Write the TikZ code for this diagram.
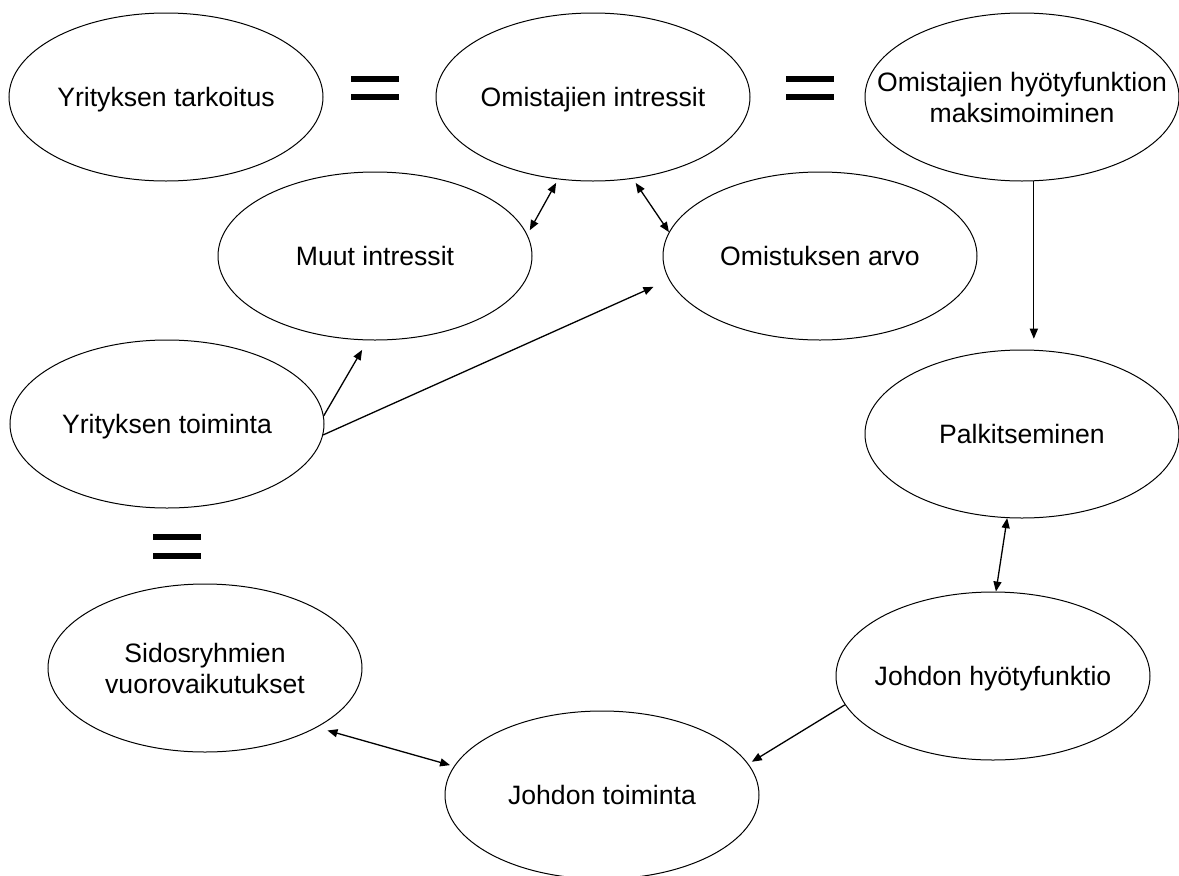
\documentclass[tikz,border=0pt]{standalone}
\usepackage{fontspec}
\setmainfont{Liberation Sans}
\usetikzlibrary{shapes.geometric,arrows.meta}
\begin{document}
\begin{tikzpicture}[x=1pt,y=-1pt,
  oval/.style={draw,ellipse,line width=1pt,minimum width=314pt,minimum height=168pt,inner sep=0pt},
  lbl/.style={align=center,font=\fontsize{26.6}{31}\selectfont,inner sep=0pt},
  lbl1/.style={lbl,anchor=base,yshift=-9.5pt},
  conn/.style={line width=1.3pt,-{Triangle[length=10pt,width=8pt]}},
  bconn/.style={line width=1.3pt,{Triangle[length=10pt,width=8pt]}-{Triangle[length=10pt,width=8pt]}},
  eqbar/.style={fill=black}]
\useasboundingbox (0,0) rectangle (1179,876);
\fill[white] (0,0) rectangle (1179,876);

% ellipses
\node[oval] (tark)  at (166,97)  {};
\node[oval] (omint) at (593,97)  {};
\node[oval] (omhyo) at (1022,97) {};
\node[oval] (muut)  at (375,256) {};
\node[oval] (arvo)  at (820,256) {};
\node[oval] (ytoim) at (167,424) {};
\node[oval] (palk)  at (1022,434) {};
\node[oval] (sido)  at (205,668) {};
\node[oval] (jhyo)  at (993,676) {};
\node[oval] (jtoim) at (602,795) {};

% labels
\node[lbl1] (tarkT)  at (tark)  {Yrityksen tarkoitus};
\node[lbl1] (omintT) at (omint) {Omistajien intressit};
\node[lbl]  (omhyoT) at (omhyo) {Omistajien hyötyfunktion\\maksimoiminen};
\node[lbl1] (muutT)  at (muut)  {Muut intressit};
\node[lbl1] (arvoT)  at (arvo)  {Omistuksen arvo};
\node[lbl1] (ytoimT) at (ytoim) {Yrityksen toiminta};
\node[lbl1] (palkT)  at (palk)  {Palkitseminen};
\node[lbl]  (sidoT)  at (sido)  {Sidosryhmien\\vuorovaikutukset};
\node[lbl1] (jhyoT)  at (jhyo)  {Johdon hyötyfunktio};
\node[lbl1] (jtoimT) at (jtoim) {Johdon toiminta};

% equals signs
\fill[eqbar] (351,75.5) rectangle (399,81.5);
\fill[eqbar] (351,94) rectangle (399,100);
\fill[eqbar] (786,75.5) rectangle (834,81.5);
\fill[eqbar] (786,94) rectangle (834,100);
\fill[eqbar] (153,534) rectangle (201,540);
\fill[eqbar] (153,553) rectangle (201,559);

% connectors
\draw[bconn,shorten <=5pt,shorten >=4pt] (muut.8.3) -- (omint.247.3);
\draw[bconn,shorten <=5pt] (omint.296.6) -- (arvo.171.2);
\draw[conn,shorten >=11pt] (ytoim.3) -- (muut.265.8);
\draw[conn,shorten >=17pt] (ytoim.-4) -- (arvo.189.9);
\draw[conn,shorten >=11pt] (omhyo.-82.5) -- (palk.82.5);
\draw[bconn] (palk.260) -- (jhyo.88.6);
\draw[conn,shorten >=4pt] (jhyo.191.5) -- (jtoim.12.8);
\draw[bconn,shorten <=11pt,shorten >=4pt] (sido.-28.4) -- (jtoim.169.6);
\end{tikzpicture}
\end{document}
